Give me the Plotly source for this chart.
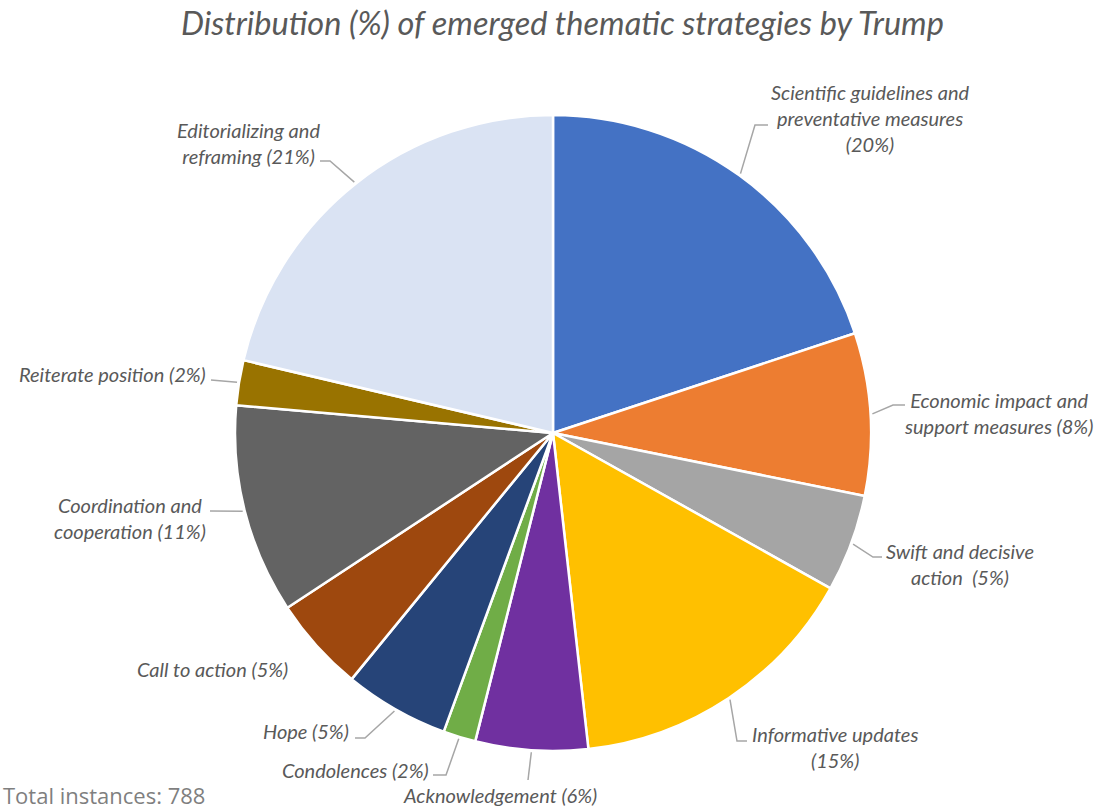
import math
import plotly.graph_objects as go

# ---------------- data ----------------
categories = [
    "Scientific guidelines and preventative measures",
    "Economic impact and support measures",
    "Swift and decisive action",
    "Informative updates",
    "Acknowledgement",
    "Condolences",
    "Hope",
    "Call to action",
    "Coordination and cooperation",
    "Reiterate position",
    "Editorializing and reframing",
]
instances = [157, 65, 39, 119, 45, 13, 42, 38, 84, 18, 168]
label_templates = [
    "Scientific guidelines and<br>preventative measures<br>({p}%)",
    "Economic impact and<br>support measures ({p}%)",
    "Swift and decisive<br>action  ({p}%)",
    "Informative updates<br>({p}%)",
    "Acknowledgement ({p}%)",
    "Condolences ({p}%)",
    "Hope ({p}%)",
    "Call to action ({p}%)",
    "Coordination and<br>cooperation ({p}%)",
    "Reiterate position ({p}%)",
    "Editorializing and<br>reframing ({p}%)",
]
colors = ["#4472C4", "#ED7D31", "#A5A5A5", "#FFC000", "#7030A0", "#70AD47",
          "#264478", "#9E480E", "#636363", "#997300", "#DAE3F3"]
total = sum(instances)

# ---------------- layout geometry ----------------
W, H = 1107, 811
ML, MR, MT, MB = 235, 236, 115, 60
PW, PH = W - ML - MR, H - MT - MB
CX, CY = ML + PW / 2, MT + PH / 2
R = min(PW, PH) / 2

def px(x):
    return (x - ML) / PW

def py(y):
    return 1 - (y - MT) / PH

# label placement (pixels): x, y, xanchor, align, leader waypoints after rim point
label_pos = [
    (870, 118, "center", "center", [(755, 125), (768, 125)]),
    (902, 413, "left", "center", [(893, 405), (905, 405)]),
    (884, 564, "left", "center", [(873, 557), (882, 557)]),
    (750, 747, "left", "center", [(737, 741), (747, 741)]),
    (500, 795, "center", "center", [(528, 780)]),
    (431, 770, "right", "center", [(446, 775), (433, 775)]),
    (351, 731, "right", "center", [(365, 738), (355, 738)]),
    (212, 669, "center", "center", None),
    (208, 518, "right", "center", [(210, 511)]),
    (208, 374, "right", "center", [(211, 380)]),
    (322, 143, "right", "center", [(330, 161), (320, 161)]),
]

LABEL_FONT = dict(family="Lato", size=20, color="#595959", style="italic")

fig = go.Figure(go.Pie(
    labels=categories,
    values=instances,
    sort=False,
    direction="clockwise",
    rotation=0,
    marker=dict(colors=colors, line=dict(color="white", width=2.5)),
    textinfo="none",
    hoverinfo="label+value+percent",
    showlegend=False,
))

annotations = []
shapes = []
cum = 0
for cat, v, tmpl, pos in zip(categories, instances, label_templates, label_pos):
    mid = (cum + v / 2) / total * 2 * math.pi
    cum += v
    p = round(100 * v / total)
    x, y, xa, al, pts = pos
    annotations.append(dict(
        x=px(x), y=py(y), xref="paper", yref="paper",
        text=tmpl.format(p=p), showarrow=False, xanchor=xa, yanchor="middle",
        align=al, font=dict(LABEL_FONT),
    ))
    if pts:
        sx = CX + (R + 2) * math.sin(mid)
        sy = CY - (R + 2) * math.cos(mid)
        path = "M {:.4f} {:.4f}".format(px(sx), py(sy))
        for (qx, qy) in pts:
            path += " L {:.4f} {:.4f}".format(px(qx), py(qy))
        shapes.append(dict(type="path", path=path, xref="paper", yref="paper",
                           line=dict(color="#A6A6A6", width=1.5)))

annotations.append(dict(
    x=px(562), y=py(22), xref="paper", yref="paper",
    text="Distribution (%) of emerged thematic strategies by Trump",
    showarrow=False, xanchor="center", yanchor="middle",
    font=dict(family="Lato", size=32.5, color="#595959", style="italic"),
))
annotations.append(dict(
    x=px(1), y=py(795), xref="paper", yref="paper",
    text=f"Total instances: {total}",
    showarrow=False, xanchor="left", yanchor="middle",
    font=dict(family="Open Sans", size=22, color="#7F7F7F"),
))

fig.update_layout(
    width=W, height=H, autosize=False,
    margin=dict(l=ML, r=MR, t=MT, b=MB),
    paper_bgcolor="white", plot_bgcolor="white",
    annotations=annotations, shapes=shapes,
)
fig.write_html("out.html", config={"displayModeBar": False},
               post_script="document.body.style.margin='0';")
